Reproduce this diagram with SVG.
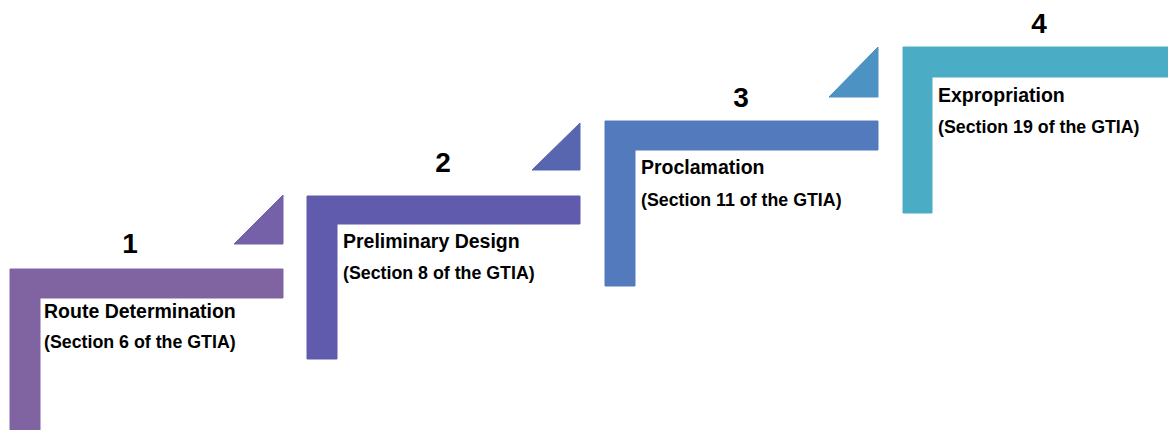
<svg xmlns="http://www.w3.org/2000/svg" width="1168" height="430" viewBox="0 0 1168 430">
  <style>
    .num { font-family: "Liberation Sans", Arial, sans-serif; font-weight: bold; font-size: 28px; fill: #000; text-anchor: middle; }
    .t1 { font-family: "Liberation Sans", Arial, sans-serif; font-weight: bold; font-size: 19.5px; fill: #000; }
    .t2 { font-family: "Liberation Sans", Arial, sans-serif; font-weight: bold; font-size: 17.8px; fill: #000; }
  </style>
  <rect width="1168" height="430" fill="#ffffff"/>
  <g id="step1">
    <path d="M10,269 H283 V298 H40 V432 H10 Z" fill="#8064A2" stroke="#8064A2" stroke-width="1" stroke-linejoin="round"/>
    <path d="M234,244 L283,195 L283,244 Z" fill="#7461A8" stroke="#7461A8" stroke-width="1" stroke-linejoin="round"/>
    <text class="num" x="130" y="253">1</text>
    <text class="t1" x="44" y="318">Route Determination</text>
    <text class="t2" x="44" y="348">(Section 6 of the GTIA)</text>
  </g>
  <g id="step2">
    <path d="M307,196 H580 V224 H337 V359 H307 Z" fill="#605BAC" stroke="#605BAC" stroke-width="1" stroke-linejoin="round"/>
    <path d="M532,170 L580,123 L580,170 Z" fill="#5866B0" stroke="#5866B0" stroke-width="1" stroke-linejoin="round"/>
    <text class="num" x="443" y="172">2</text>
    <text class="t1" x="343" y="248">Preliminary Design</text>
    <text class="t2" x="343" y="279">(Section 8 of the GTIA)</text>
  </g>
  <g id="step3">
    <path d="M605,121 H878 V150 H635 V286 H605 Z" fill="#527ABC" stroke="#527ABC" stroke-width="1" stroke-linejoin="round"/>
    <path d="M829,97 L878,47 L878,97 Z" fill="#4C92C2" stroke="#4C92C2" stroke-width="1" stroke-linejoin="round"/>
    <text class="num" x="741" y="107">3</text>
    <text class="t1" x="641" y="174">Proclamation</text>
    <text class="t2" x="641" y="206">(Section 11 of the GTIA)</text>
  </g>
  <g id="step4">
    <path d="M903,47 H1170 V77 H932 V213 H903 Z" fill="#4BACC6" stroke="#4BACC6" stroke-width="1" stroke-linejoin="round"/>
    <text class="num" x="1039" y="33">4</text>
    <text class="t1" x="938" y="102">Expropriation</text>
    <text class="t2" x="938" y="133">(Section 19 of the GTIA)</text>
  </g>
  <g id="connectors"></g>
</svg>
